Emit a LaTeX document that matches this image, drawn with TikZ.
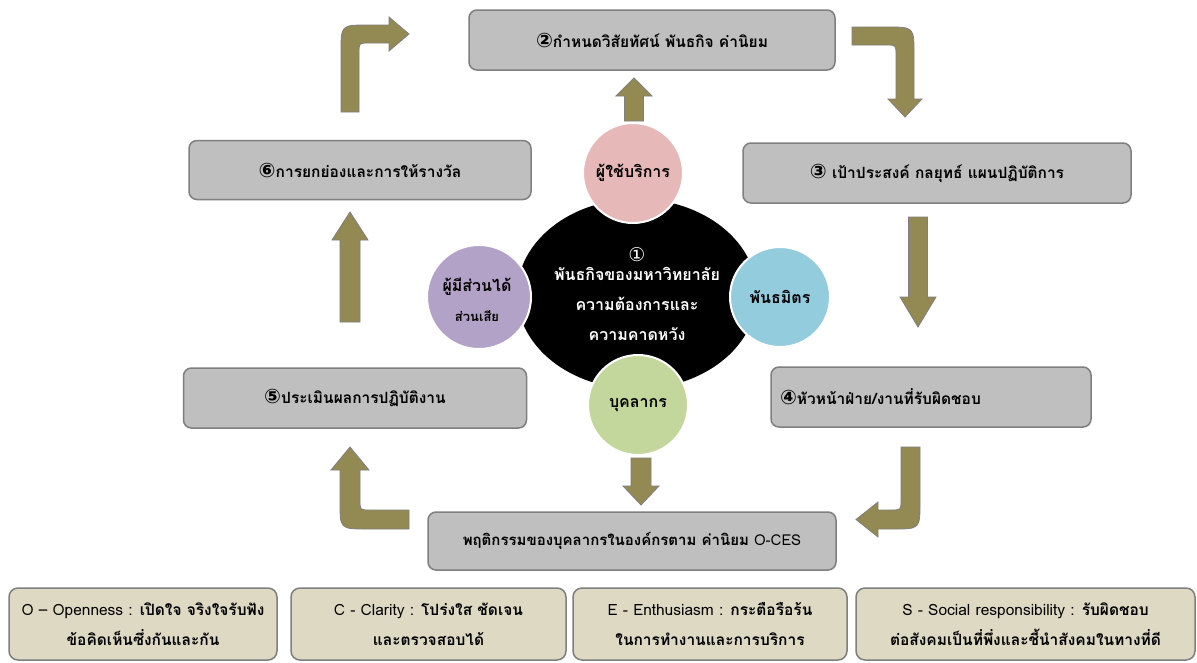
\documentclass[tikz,border=0pt]{standalone}
\usepackage{fontspec}
\setmainfont[Script=Thai]{Loma}
\newfontfamily\dvs{DejaVu Sans}
\usetikzlibrary{shapes.geometric}
\definecolor{boxfill}{HTML}{BFBFBF}
\definecolor{boxline}{HTML}{7F7F7F}
\definecolor{tanfill}{HTML}{DDD9C3}
\definecolor{olivefill}{HTML}{938953}
\definecolor{pinkc}{HTML}{E6B9B8}
\definecolor{purplec}{HTML}{B3A2C7}
\definecolor{bluec}{HTML}{93CDDD}
\definecolor{greenc}{HTML}{C3D69B}
\newcommand\cnum[1]{{\dvs\fontsize{20}{18}\selectfont #1}}
\begin{document}
\begin{tikzpicture}[x=1pt,y=-1pt,
  procbox/.style={draw=boxline, line width=1.5pt, fill=boxfill, rounded corners=8pt,
    font=\fontsize{15.5}{18}\selectfont\bfseries, inner sep=0pt},
  valbox/.style={draw=boxline, line width=1.5pt, fill=tanfill, rounded corners=9pt,
    minimum height=72pt, align=center, inner sep=0pt,
    font=\fontsize{15.5}{30}\selectfont},
  roundc/.style={circle, draw=white, line width=2pt, minimum size=100pt, inner sep=0pt,
    font=\fontsize{16}{18}\selectfont\bfseries, align=center},
  blockarrow/.style={fill=olivefill, draw=boxline, line width=0.8pt}]
\useasboundingbox (0,0) rectangle (1197,662);
\fill[white] (0,0) rectangle (1197,662);

% process boxes
\node[procbox, minimum width=366pt, minimum height=60pt] (b2) at (652,40)
  {\cnum{②}กำหนดวิสัยทัศน์ พันธกิจ ค่านิยม};
\node[procbox, minimum width=388pt, minimum height=60pt] (b3) at (937,173)
  {\cnum{③} เป้าประสงค์ กลยุทธ์ แผนปฏิบัติการ};
\node[procbox, minimum width=320pt, minimum height=60pt, text width=302pt, align=left] (b4) at (931,397)
  {\cnum{④}หัวหน้าฝ่าย/งานที่รับผิดชอบ\\[10pt]};
\node[procbox, minimum width=343pt, minimum height=60pt] (b5) at (355,398)
  {\cnum{⑤}ประเมินผลการปฏิบัติงาน};
\node[procbox, minimum width=342pt, minimum height=59pt] (b6) at (360,170)
  {\cnum{⑥}การยกย่องและการให้รางวัล};
\node[procbox, minimum width=408pt, minimum height=58pt, font=\fontsize{15}{18}\selectfont\bfseries] (beh) at (632,541)
  {พฤติกรรมของบุคลากรในองค์กรตาม ค่านิยม {\mdseries O-CES}};

% value boxes
\node[valbox, minimum width=268pt] (vo) at (143,624)
  {O – Openness : {\bfseries เปิดใจ จริงใจรับฟัง}\\{\bfseries ข้อคิดเห็นซึ่งกันและกัน}};
\node[valbox, minimum width=275pt] (vc) at (428.5,624)
  {C - Clarity : {\bfseries โปร่งใส ชัดเจน}\\{\bfseries และตรวจสอบได้}};
\node[valbox, minimum width=274pt] (ve) at (710,624)
  {E - Enthusiasm : {\bfseries กระตือรือร้น}\\{\bfseries ในการทำงานและการบริการ}};
\node[valbox, minimum width=339pt] (vs) at (1025.5,624)
  {S - Social responsibility : {\bfseries รับผิดชอบ}\\{\bfseries ต่อสังคมเป็นที่พึ่งและชี้นำสังคมในทางที่ดี}};

% core
\node[ellipse, fill=black, minimum width=240pt, minimum height=190pt, inner sep=0pt,
  text=white, align=center, font=\fontsize{16}{18}\selectfont\bfseries] (core) at (637,294)
  {{\dvs\mdseries\fontsize{19}{18}\selectfont ①}\\[1pt]พันธกิจของมหาวิทยาลัย\\[12pt]ความต้องการและ\\[12pt]ความคาดหวัง};

\node[roundc, fill=pinkc] (user) at (633,173) {ผู้ใช้บริการ};
\node[roundc, fill=bluec] (partner) at (780,297) {พันธมิตร};
\node[roundc, fill=greenc] (staff) at (638,405) {บุคลากร};
\node[roundc, fill=purplec, minimum size=104pt] (stake) at (479,297) {};
\node[font=\fontsize{16}{18}\selectfont\bfseries] (stake1) at (477,287) {ผู้มีส่วนได้};
\begin{scope}
  \clip (420,300) rectangle (540,322);
  \node[font=\fontsize{13}{16}\selectfont\bfseries] (stake2) at (477,316) {ส่วนเสีย};
\end{scope}

% block arrows
\draw[blockarrow] (624.5,121) -- (624.5,96) -- (616,96) -- (634,78) -- (652,96) -- (643.5,96) -- (643.5,121) -- cycle;
\draw[blockarrow] (631,458) -- (631,486) -- (623,486) -- (641,505) -- (659,486) -- (651,486) -- (651,458) -- cycle;
\draw[blockarrow] (908.5,217) -- (908.5,297) -- (900,297) -- (918,327) -- (936,297) -- (927.5,297) -- (927.5,217) -- cycle;
\draw[blockarrow] (340,322) -- (340,240) -- (332,240) -- (350,212) -- (368,240) -- (360,240) -- (360,322) -- cycle;
\draw[blockarrow] (341,112) -- (341,52) .. controls (341,25) .. (368,25) -- (389,25) -- (389,17) -- (409,34) -- (389,51) -- (389,43) -- (369,43) .. controls (359,43) .. (359,53) -- (359,112) -- cycle;
\draw[blockarrow] (852,27) -- (887,27) .. controls (914,27) .. (914,54) -- (914,99) -- (922,99) -- (905,117) -- (888,99) -- (896,99) -- (896,55) .. controls (896,45) .. (886,45) -- (852,45) -- cycle;
\draw[blockarrow] (901,447) -- (920,447) -- (920,502) .. controls (920,529) .. (893,529) -- (878,529) -- (878,537) -- (856,519.5) -- (878,502) -- (878,510) -- (891,510) .. controls (901,510) .. (901,500) -- cycle;
\draw[blockarrow] (409,529) -- (367,529) .. controls (340,529) .. (340,502) -- (340,470) -- (331,470) -- (350,447) -- (369,470) -- (360,470) -- (360,500) .. controls (360,510) .. (370,510) -- (409,510) -- cycle;
\end{tikzpicture}
\end{document}
